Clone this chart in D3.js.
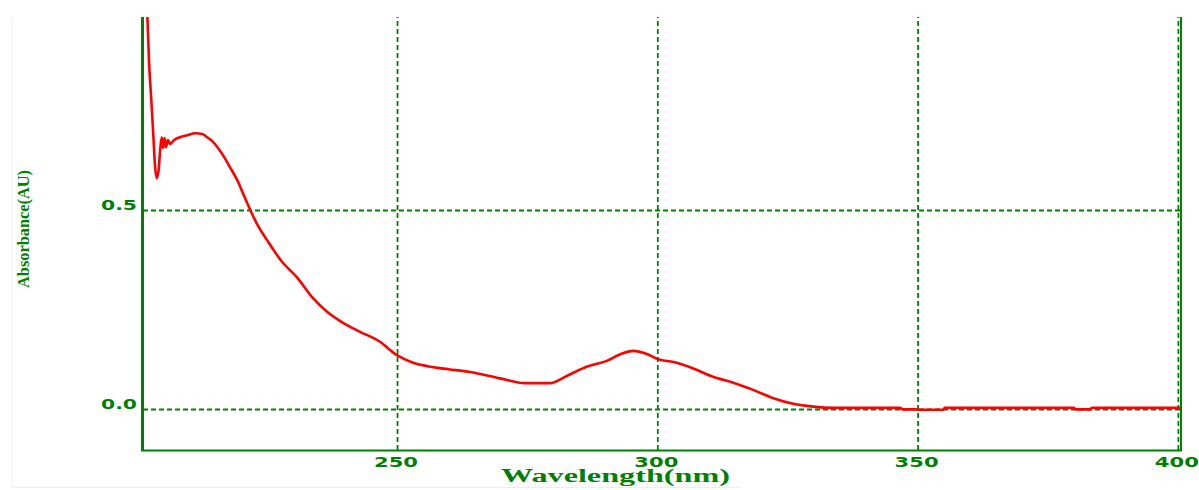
<!DOCTYPE html>
<html lang="en">
<head>
  <meta charset="utf-8">
  <title>UV spectrum (D3.js)</title>
  <script src="https://d3js.org/d3.v7.min.js"></script>
  <style>
    body {
      margin: 0;
      padding: 0;
      background: #fff;
      overflow: hidden;
    }
    .grid line {
      stroke: #008000;
      stroke-width: 1.8;
      stroke-dasharray: 5,3;
    }
    .tick-label {
      font-family: "DejaVu Sans", sans-serif;
      font-weight: bold;
      font-size: 14px;
      fill: #008000;
    }
    .axis-title {
      font-family: "Liberation Serif", serif;
      font-weight: bold;
      fill: #008000;
    }
  </style>
</head>
<body>
  <svg id="chart"></svg>

  <script>
    // spectrum (nm, absorbance)
    const wavelength = [
      202.0, 202.37, 202.76, 203.15, 203.5, 203.85, 204.2, 204.5, 204.8,
      205.06, 205.35, 205.6, 206.0, 206.4, 207.2, 208.3, 209.7, 211.2, 212.6,
      213.5, 214.5, 215.6, 216.8, 217.9, 219.3, 220.8, 221.8, 223.3, 225.0,
      227.9, 230.7, 233.9, 236.5, 239.7, 242.9, 246.7, 249.9, 253.1, 257.0,
      259.9, 264.0, 269.8, 274.6, 279.4, 282.6, 286.4, 290.3, 292.8, 295.4,
      298.0, 300.2, 303.1, 306.9, 310.7, 314.6, 318.4, 322.3, 326.1, 329.9,
      333.8, 346.6, 347.2, 349.7, 350.1, 354.9, 355.2, 380.0, 380.4, 383.1,
      383.5, 400.4
    ];
    const absorbance = [
      1.00, 0.869, 0.784, 0.696, 0.613, 0.580, 0.600, 0.651, 0.683,
      0.656, 0.681, 0.658, 0.676, 0.666, 0.676, 0.683, 0.688, 0.693, 0.691,
      0.683, 0.673, 0.656, 0.633, 0.608, 0.575, 0.530, 0.500, 0.460, 0.425,
      0.370, 0.332, 0.278, 0.245, 0.216, 0.194, 0.169, 0.136, 0.116, 0.105,
      0.100, 0.093, 0.077, 0.065, 0.065, 0.083, 0.106, 0.121, 0.137, 0.146,
      0.138, 0.125, 0.118, 0.102, 0.081, 0.066, 0.048, 0.027, 0.013, 0.006,
      0.003, 0.003, -0.001, -0.001, -0.002, -0.002, 0.003, 0.003, -0.001, -0.001,
      0.003, 0.003
    ];

    const xTicks = [250, 300, 350, 400];
    const xTickLabels = ["250", "300", "350", "400"];
    const yTicks = [0.0, 0.5];
    const yTickLabels = ["0.0", "0.5"];

    const width = 1199;
    const height = 490;
    const green = "#008000";

    const svg = d3.select("#chart")
      .attr("width", width)
      .attr("height", height);

    const x = d3.scaleLinear().domain([201.2, 400.6]).range([143, 1181]);
    const y = d3.scaleLinear().domain([-0.103, 0.985]).range([450, 17]);

    const [plotLeft, plotRight] = x.range();
    const [plotBottom, plotTop] = y.range();

    // faint frame of the window
    svg.append("line")
      .attr("x1", 12).attr("x2", 12).attr("y1", 17).attr("y2", 487)
      .attr("stroke", "#eeeeee");
    svg.append("line")
      .attr("x1", 12).attr("x2", 740).attr("y1", 487.5).attr("y2", 487.5)
      .attr("stroke", "#eeeeee");

    // dashed grid from the axes
    const gx = svg.append("g")
      .attr("class", "grid")
      .attr("transform", `translate(0,${plotBottom})`)
      .call(d3.axisBottom(x).tickValues(xTicks).tickSize(-(plotBottom - plotTop)).tickFormat(""));
    gx.select(".domain").remove();

    const gy = svg.append("g")
      .attr("class", "grid")
      .attr("transform", `translate(${plotLeft},0)`)
      .call(d3.axisLeft(y).tickValues(yTicks).tickSize(-(plotRight - plotLeft)).tickFormat(""));
    gy.select(".domain").remove();

    // tick labels
    svg.append("g")
      .selectAll("text")
      .data(xTicks)
      .enter().append("text")
      .attr("class", "tick-label")
      .attr("x", d => x(d) - 1)
      .attr("y", 467)
      .attr("text-anchor", "middle")
      .attr("textLength", 44)
      .attr("lengthAdjust", "spacingAndGlyphs")
      .text((d, i) => xTickLabels[i]);

    svg.append("g")
      .selectAll("text")
      .data(yTicks)
      .enter().append("text")
      .attr("class", "tick-label")
      .attr("x", 137)
      .attr("y", d => y(d))
      .attr("text-anchor", "end")
      .attr("textLength", 36)
      .attr("lengthAdjust", "spacingAndGlyphs")
      .text((d, i) => yTickLabels[i]);

    // spectrum
    svg.append("clipPath")
      .attr("id", "plot-clip")
      .append("rect")
      .attr("x", plotLeft).attr("y", plotTop)
      .attr("width", plotRight - plotLeft).attr("height", plotBottom - plotTop);

    const points = wavelength.map((w, i) => [w, absorbance[i]]);
    const line = d3.line()
      .curve(d3.curveMonotoneX)
      .x(d => x(d[0]))
      .y(d => y(d[1]));

    svg.append("path")
      .datum(points)
      .attr("clip-path", "url(#plot-clip)")
      .attr("fill", "none")
      .attr("stroke", "#ff0000")
      .attr("stroke-width", 2.6)
      .attr("stroke-linejoin", "round")
      .attr("d", line);

    // axis frame
    svg.append("line")
      .attr("x1", plotLeft - 0.5).attr("x2", plotLeft - 0.5)
      .attr("y1", plotTop).attr("y2", plotBottom + 1)
      .attr("stroke", green).attr("stroke-width", 3);
    svg.append("line")
      .attr("x1", plotLeft - 2).attr("x2", plotRight + 1)
      .attr("y1", plotBottom + 0.5).attr("y2", plotBottom + 0.5)
      .attr("stroke", green).attr("stroke-width", 2);
    svg.append("line")
      .attr("x1", plotRight).attr("x2", plotRight)
      .attr("y1", plotTop).attr("y2", plotBottom + 1)
      .attr("stroke", green).attr("stroke-width", 2);

    // axis titles
    svg.append("text")
      .attr("class", "axis-title")
      .attr("x", 501)
      .attr("y", 482)
      .attr("font-size", "18px")
      .attr("textLength", 229)
      .attr("lengthAdjust", "spacingAndGlyphs")
      .text("Wavelength(nm)");

    svg.append("text")
      .attr("class", "axis-title")
      .attr("transform", "translate(29,229) rotate(-90)")
      .attr("text-anchor", "middle")
      .attr("font-size", "17px")
      .attr("textLength", 118)
      .attr("lengthAdjust", "spacingAndGlyphs")
      .text("Absorbance(AU)");
  </script>
</body>
</html>
